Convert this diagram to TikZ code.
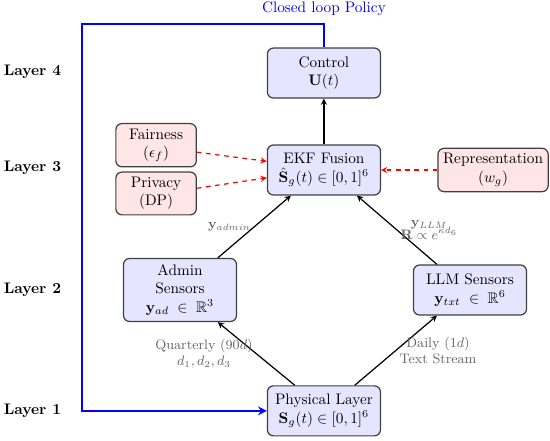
\documentclass[tikz,border=0pt]{standalone}
\usepackage{amsmath,amssymb}
\usetikzlibrary{arrows.meta}
\begin{document}
\begin{tikzpicture}[>=stealth,
        block/.style={draw=black!75, line width=0.8pt, rounded corners, fill=blue!10, align=center, minimum width=2.6cm, minimum height=1.15cm},
        constraint/.style={draw=black!75, line width=0.8pt, rounded corners, fill=red!10, align=center, minimum width=1.85cm, minimum height=0.9cm},
        layer/.style={font=\bfseries, anchor=west, inner sep=0pt},
        signal/.style={font=\small, text=black!60, align=center, inner sep=2pt},
        feedback/.style={draw=blue, line width=1.5pt}]
        \useasboundingbox (-7.45,-0.69) rectangle (5.2,9.45);
        \node[block] (physical) at (0,0) {Physical Layer\\ $\mathbf{S}_g(t)\in[0,1]^6$};
        \node[block, minimum height=1.45cm] (admin) at (-3.31,2.78) {Admin\\ Sensors\\ $\mathbf{y}_{ad}\;\in\;\mathbb{R}^3$};
        \node[block] (llm) at (3.36,2.78) {LLM Sensors\\ $\mathbf{y}_{txt}\;\in\;\mathbb{R}^6$};
        \node[block] (ekf) at (0,5.54) {EKF Fusion\\ $\hat{\mathbf{S}}_g(t)\in[0,1]^6$};
        \node[block] (control) at (0,7.77) {Control\\ $\mathbf{U}(t)$};
        \node[constraint] (fairness) at (-3.86,6.11) {Fairness\\ $(\epsilon_f)$};
        \node[constraint] (privacy) at (-3.86,5.0) {Privacy\\ (DP)};
        \node[constraint] (representation) at (3.89,5.54) {Representation\\ $(w_g)$};
        \node[layer] (layer4) at (-7.37,7.79) {Layer 4};
        \node[layer] (layer3) at (-7.37,5.59) {Layer 3};
        \node[layer] (layer2) at (-7.37,2.78) {Layer 2};
        \node[layer] (layer1) at (-7.37,0) {Layer 1};
        \coordinate (loopright) at (0,8.9);
        \coordinate (loopleft) at (-5.56,8.9);
        \draw[->, thick] ([xshift=-0.67cm]physical.north) -- node[signal, left]{Quarterly ($90d$)\\ $d_1, d_2, d_3$} ([xshift=0.87cm]admin.south);
        \draw[->, thick] ([xshift=0.71cm]physical.north) -- node[signal, right]{Daily ($1d$)\\ Text Stream} ([xshift=-0.76cm]llm.south);
        \draw[->, thick] ([xshift=0.87cm]admin.north) -- node[signal, left]{$\mathbf{y}_{admin}$} ([xshift=-0.76cm]ekf.south);
        \draw[->, thick] ([xshift=-0.76cm]llm.north) -- node[signal, right]{$\mathbf{y}_{LLM}$\\[-3pt] $\mathbf{R}\propto e^{\kappa d_6}$} ([xshift=0.76cm]ekf.south);
        \draw[->, thick] (ekf.north) -- (control.south);
        \draw[->, thick, dashed, red] ([yshift=-0.16cm]fairness.east) -- ([yshift=0.2cm]ekf.west);
        \draw[->, thick, dashed, red] ([yshift=0.12cm]privacy.east) -- ([yshift=-0.18cm]ekf.west);
        \draw[->, thick, dashed, red] (representation.west) -- (ekf.east);
        \draw[feedback, ->] (control.north) -- (loopright) -- (loopleft) |- (physical.west);
        \node[text=blue, above=2pt] (looplabel) at (loopright) {Closed loop Policy};
    \end{tikzpicture}
\end{document}
